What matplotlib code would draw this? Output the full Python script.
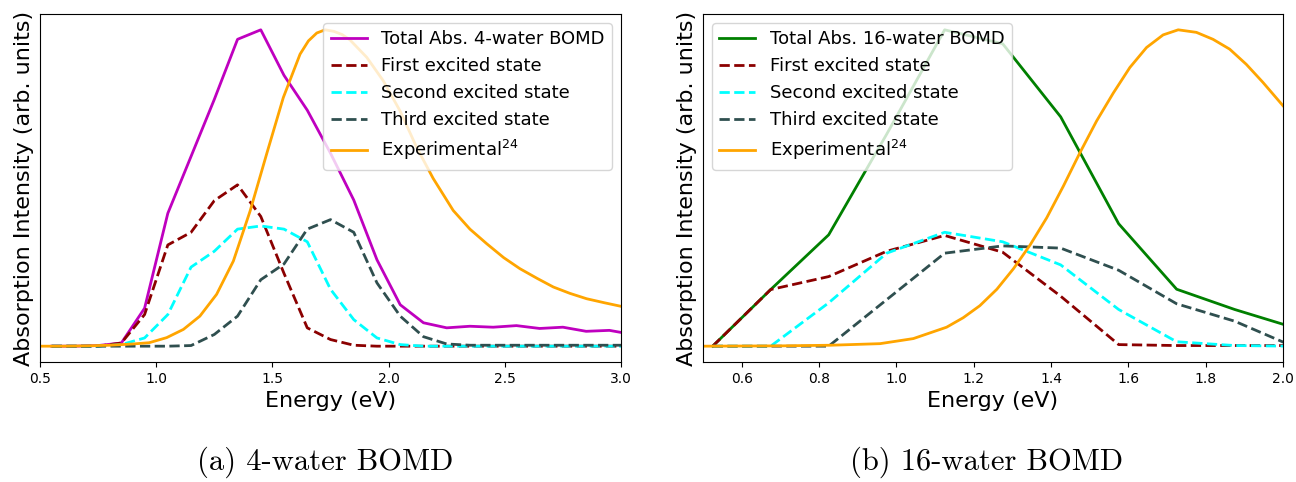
import matplotlib
matplotlib.use("Agg")
import matplotlib.pyplot as plt

# --- 4-water BOMD (left panel) ---
e4 = [0.55, 0.65, 0.75, 0.85, 0.95, 1.05, 1.15, 1.25, 1.35, 1.45, 1.55, 1.65,
      1.75, 1.85, 1.95, 2.05, 2.15, 2.25, 2.35, 2.45, 2.55, 2.65, 2.75, 2.85,
      2.95, 3.05]
total4 = [0.0, 0.0, 0.002, 0.01, 0.12, 0.42, 0.60, 0.78, 0.97, 1.0, 0.856,
          0.746, 0.61, 0.462, 0.273, 0.131, 0.074, 0.058, 0.063, 0.06, 0.065,
          0.056, 0.06, 0.047, 0.05, 0.037]
first4 = [0.0, 0.0, 0.0, 0.01, 0.10, 0.32, 0.36, 0.46, 0.51, 0.41, 0.23,
          0.058, 0.021, 0.003, 0.0, 0.0, 0.0, 0.0, 0.0, 0.0, 0.0, 0.0, 0.0,
          0.0, 0.0, 0.0]
second4 = [0.0, 0.0, 0.0, 0.005, 0.026, 0.10, 0.25, 0.30, 0.37, 0.38, 0.37,
           0.33, 0.18, 0.084, 0.026, 0.005, 0.0, 0.0, 0.0, 0.0, 0.0, 0.0, 0.0,
           0.0, 0.0, 0.0]
third4 = [0.0, 0.0, 0.0, 0.0, 0.0, 0.0, 0.002, 0.037, 0.095, 0.21, 0.26, 0.37,
          0.40, 0.36, 0.20, 0.095, 0.03, 0.007, 0.003, 0.003, 0.003, 0.003,
          0.003, 0.003, 0.003, 0.003]
# experimental spectrum
e_exp4 = [0.5, 0.6, 0.7, 0.8, 0.9, 0.97, 1.045, 1.117, 1.188, 1.26, 1.332,
          1.404, 1.475, 1.547, 1.619, 1.655, 1.691, 1.727, 1.765, 1.8, 1.834,
          1.906, 1.977, 2.049, 2.121, 2.192, 2.278, 2.35, 2.422, 2.495, 2.565,
          2.64, 2.709, 2.78, 2.852, 2.93, 3.0]
i_exp4 = [0.0, 0.0, 0.001, 0.003, 0.007, 0.011, 0.027, 0.053, 0.095, 0.164,
          0.269, 0.427, 0.607, 0.786, 0.923, 0.965, 0.99, 1.0, 0.995, 0.985,
          0.968, 0.913, 0.839, 0.744, 0.628, 0.53, 0.429, 0.37, 0.324, 0.28,
          0.245, 0.214, 0.187, 0.167, 0.15, 0.137, 0.126]

# --- 16-water BOMD (right panel) ---
e16 = [0.525, 0.675, 0.825, 0.975, 1.125, 1.275, 1.425, 1.575, 1.725, 1.875, 2.025]
total16 = [0.0, 0.179, 0.352, 0.67, 1.0, 0.956, 0.725, 0.387, 0.18, 0.116, 0.06]
first16 = [0.0, 0.179, 0.22, 0.30, 0.35, 0.297, 0.158, 0.005, 0.002, 0.002, 0.002]
second16 = [0.0, 0.0, 0.137, 0.294, 0.36, 0.33, 0.257, 0.116, 0.014, 0.002, 0.0]
third16 = [0.0, 0.0, 0.0, 0.147, 0.294, 0.317, 0.31, 0.24, 0.134, 0.079, 0.0]
# experimental spectrum
e_exp16 = [0.5, 0.7, 0.83, 0.958, 1.044, 1.13, 1.173, 1.216, 1.26, 1.303,
           1.346, 1.389, 1.432, 1.475, 1.518, 1.561, 1.604, 1.647, 1.69, 1.729,
           1.776, 1.819, 1.862, 1.905, 1.948, 2.0]
i_exp16 = [0.0, 0.001, 0.003, 0.008, 0.024, 0.06, 0.09, 0.128, 0.18, 0.245,
           0.32, 0.406, 0.506, 0.612, 0.712, 0.80, 0.881, 0.944, 0.984, 1.0,
           0.992, 0.97, 0.939, 0.891, 0.834, 0.76]

EXP_LABEL = r"Experimental$^{24}$"


def panel(ax, e, total, first, second, third, e_exp, i_exp,
          total_color, total_label, xlim, xticks, loc):
    ax.plot(e, total, color=total_color, lw=2, label=total_label)
    ax.plot(e, first, "--", color="darkred", lw=2, label="First excited state")
    ax.plot(e, second, "--", color="cyan", lw=2, label="Second excited state")
    ax.plot(e, third, "--", color="darkslategray", lw=2, label="Third excited state")
    ax.plot(e_exp, i_exp, color="orange", lw=2, label=EXP_LABEL)
    ax.set_xlim(*xlim)
    ax.set_ylim(-0.05, 1.05)
    ax.set_xticks(xticks)
    ax.set_yticks([])
    ax.tick_params(axis="x", labelsize=10)
    ax.set_xlabel("Energy (eV)", fontsize=16)
    ax.set_ylabel("Absorption Intensity (arb. units)", fontsize=16)
    ax.legend(loc=loc, fontsize=13)


fig = plt.figure(figsize=(12.96, 4.82), dpi=100)
ax1 = fig.add_axes([40 / 1296, 120 / 482, 581 / 1296, 348 / 482])
ax2 = fig.add_axes([703 / 1296, 120 / 482, 580 / 1296, 348 / 482])

panel(ax1, e4, total4, first4, second4, third4, e_exp4, i_exp4,
      "m", "Total Abs. 4-water BOMD",
      (0.5, 3.0), [0.5, 1.0, 1.5, 2.0, 2.5, 3.0], "upper right")
panel(ax2, e16, total16, first16, second16, third16, e_exp16, i_exp16,
      "g", "Total Abs. 16-water BOMD",
      (0.5, 2.0), [0.6, 0.8, 1.0, 1.2, 1.4, 1.6, 1.8, 2.0], "upper left")

fig.text(325 / 1296, 1 - 462 / 482, "(a) 4-water BOMD", family="cmr10",
         fontsize=22, ha="center", va="center")
fig.text(987 / 1296, 1 - 462 / 482, "(b) 16-water BOMD", family="cmr10",
         fontsize=22, ha="center", va="center")

fig.savefig("out.png", dpi=100)
